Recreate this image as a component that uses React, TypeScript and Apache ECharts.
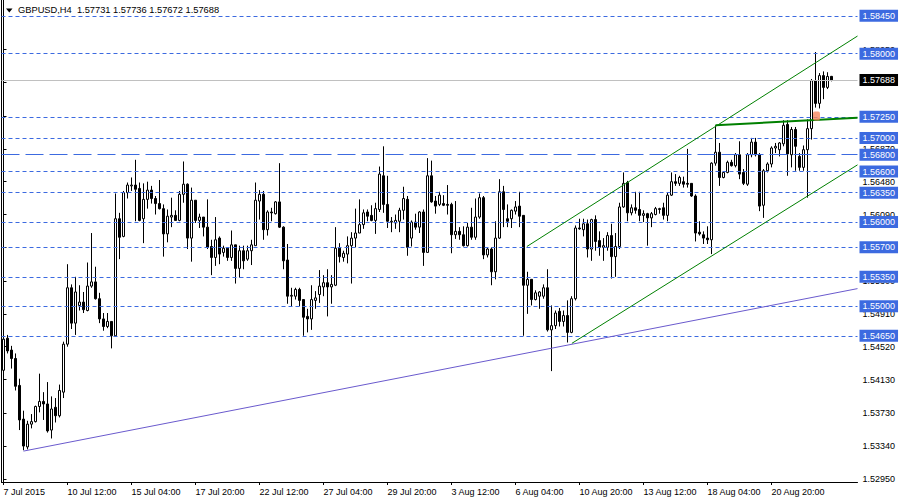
import React, { useEffect, useRef } from "react";
import * as echarts from "echarts";

// ---- data (H4 bars, [open, close, low, high]) ----
const ohlc: number[][] = [
  [1.5424, 1.5461, 1.5422, 1.5486], [1.5462, 1.5447, 1.5444, 1.5466], [1.5448, 1.5438, 1.5426, 1.5453], [1.5438, 1.5405, 1.54, 1.5444], [1.5406, 1.5365, 1.5353, 1.5414], [1.5366, 1.5334, 1.5329, 1.5376],
  [1.5333, 1.536, 1.533, 1.5364], [1.536, 1.5363, 1.5355, 1.5372], [1.5363, 1.5381, 1.5362, 1.5382], [1.5381, 1.5387, 1.5374, 1.542], [1.5387, 1.5384, 1.5365, 1.5398], [1.5384, 1.5352, 1.535, 1.541],
  [1.5353, 1.5378, 1.5343, 1.5393], [1.538, 1.537, 1.5362, 1.5391], [1.537, 1.54, 1.5368, 1.5407], [1.5398, 1.5455, 1.5391, 1.5458], [1.5455, 1.5522, 1.5452, 1.555], [1.5522, 1.548, 1.5473, 1.5526],
  [1.548, 1.5517, 1.5466, 1.5535], [1.5501, 1.5505, 1.5495, 1.5525], [1.5505, 1.5496, 1.5492, 1.5517], [1.5495, 1.5524, 1.5494, 1.5552], [1.5524, 1.5529, 1.5522, 1.5587], [1.5529, 1.5509, 1.5508, 1.5547],
  [1.5509, 1.5485, 1.548, 1.5516], [1.5485, 1.5476, 1.5471, 1.5492], [1.5476, 1.5482, 1.5474, 1.5492], [1.5482, 1.5465, 1.545, 1.5482], [1.5465, 1.5604, 1.5465, 1.5634], [1.5604, 1.5582, 1.5556, 1.5611],
  [1.5583, 1.5635, 1.5582, 1.5637], [1.5635, 1.5644, 1.5628, 1.5647], [1.5643, 1.5644, 1.5637, 1.5653], [1.5644, 1.5639, 1.5601, 1.5674], [1.564, 1.5602, 1.5601, 1.5647], [1.5604, 1.5627, 1.5575, 1.5646],
  [1.5627, 1.5638, 1.5616, 1.5648], [1.5638, 1.5628, 1.5622, 1.5643], [1.5628, 1.5622, 1.5609, 1.5631], [1.5622, 1.5616, 1.5615, 1.565], [1.5616, 1.5586, 1.5559, 1.5621], [1.5586, 1.5607, 1.5576, 1.5615],
  [1.5606, 1.5608, 1.5594, 1.5629], [1.5608, 1.5602, 1.5602, 1.5614], [1.5602, 1.5633, 1.5601, 1.5637], [1.5633, 1.5645, 1.5623, 1.5672], [1.5645, 1.5581, 1.5568, 1.5646], [1.5581, 1.5626, 1.5553, 1.5641],
  [1.5626, 1.5602, 1.5599, 1.5626], [1.5602, 1.5606, 1.5593, 1.561], [1.5606, 1.5594, 1.5583, 1.5606], [1.5594, 1.557, 1.5568, 1.5627], [1.5571, 1.5558, 1.5537, 1.5579], [1.5558, 1.5579, 1.5548, 1.5606],
  [1.5581, 1.5562, 1.555, 1.5583], [1.5564, 1.5569, 1.5559, 1.5572], [1.5569, 1.5558, 1.5554, 1.5569], [1.5558, 1.5573, 1.5554, 1.559], [1.5573, 1.5545, 1.5527, 1.5573], [1.5545, 1.5566, 1.5534, 1.5572],
  [1.5566, 1.5554, 1.5544, 1.5572], [1.5556, 1.5566, 1.5554, 1.5572], [1.5566, 1.5573, 1.5549, 1.5579], [1.5572, 1.5626, 1.5572, 1.5647], [1.5625, 1.5633, 1.5603, 1.5638], [1.5633, 1.5591, 1.5579, 1.5637],
  [1.5591, 1.5612, 1.5584, 1.5614], [1.5612, 1.5611, 1.5601, 1.5617], [1.561, 1.5624, 1.5609, 1.5625], [1.5624, 1.5594, 1.5593, 1.567], [1.5594, 1.5554, 1.5544, 1.5595], [1.5555, 1.5512, 1.5503, 1.5574],
  [1.5512, 1.5513, 1.55, 1.5522], [1.5512, 1.552, 1.5508, 1.5522], [1.552, 1.5507, 1.55, 1.5522], [1.5508, 1.5487, 1.5465, 1.5508], [1.5488, 1.5485, 1.5469, 1.5497], [1.5485, 1.5508, 1.5472, 1.5525],
  [1.5507, 1.551, 1.5497, 1.5518], [1.5514, 1.5524, 1.5504, 1.5543], [1.5523, 1.5528, 1.5512, 1.5537], [1.5528, 1.5523, 1.5488, 1.5544], [1.5523, 1.5526, 1.5503, 1.5537], [1.5525, 1.5569, 1.5524, 1.5594],
  [1.5569, 1.5559, 1.5552, 1.5575], [1.5558, 1.5563, 1.5553, 1.5566], [1.5562, 1.5572, 1.5551, 1.5583], [1.5572, 1.5581, 1.5527, 1.5588], [1.5581, 1.5587, 1.557, 1.5616], [1.5587, 1.5597, 1.5587, 1.5627],
  [1.5597, 1.5611, 1.5592, 1.5615], [1.5612, 1.5607, 1.5601, 1.5615], [1.5608, 1.5602, 1.5601, 1.562], [1.5602, 1.5616, 1.5586, 1.5623], [1.5615, 1.5657, 1.5612, 1.5666], [1.5655, 1.5621, 1.5611, 1.569],
  [1.5621, 1.5601, 1.5593, 1.5655], [1.56, 1.5601, 1.5588, 1.5606], [1.5599, 1.5602, 1.5592, 1.5609], [1.5601, 1.5614, 1.5588, 1.5617], [1.5614, 1.5628, 1.5603, 1.5642], [1.5627, 1.557, 1.556, 1.5631],
  [1.5581, 1.56, 1.5571, 1.5602], [1.56, 1.5594, 1.5591, 1.561], [1.5594, 1.5612, 1.5587, 1.5613], [1.5612, 1.5564, 1.5548, 1.5615], [1.5564, 1.5655, 1.5564, 1.5676], [1.5655, 1.5624, 1.5623, 1.5673],
  [1.5625, 1.5619, 1.561, 1.5631], [1.5621, 1.5632, 1.5619, 1.5636], [1.5622, 1.562, 1.5619, 1.5632], [1.5621, 1.562, 1.5609, 1.5644], [1.5621, 1.5585, 1.5563, 1.5623], [1.5585, 1.5589, 1.558, 1.5625],
  [1.5589, 1.5585, 1.5579, 1.5594], [1.5585, 1.5572, 1.5571, 1.5595], [1.5572, 1.5594, 1.5571, 1.5599], [1.5594, 1.5582, 1.5579, 1.5617], [1.5582, 1.5606, 1.5579, 1.5628], [1.5606, 1.5629, 1.5604, 1.5634],
  [1.5629, 1.5561, 1.5556, 1.5631], [1.5561, 1.5568, 1.5558, 1.557], [1.5568, 1.5541, 1.5525, 1.557], [1.5541, 1.5581, 1.5532, 1.5601], [1.5581, 1.5636, 1.558, 1.5651], [1.5636, 1.5615, 1.5594, 1.5643],
  [1.5604, 1.5601, 1.5594, 1.5621], [1.5604, 1.5614, 1.5593, 1.5615], [1.5613, 1.5618, 1.5609, 1.5625], [1.5619, 1.5607, 1.5594, 1.5636], [1.5608, 1.5525, 1.5465, 1.5608], [1.5525, 1.5532, 1.5491, 1.5541],
  [1.5532, 1.5508, 1.5501, 1.5532], [1.5508, 1.5516, 1.5507, 1.5519], [1.5512, 1.5517, 1.5497, 1.5518], [1.5512, 1.5522, 1.5509, 1.5526], [1.5522, 1.5472, 1.547, 1.5544], [1.5472, 1.5477, 1.5423, 1.5501],
  [1.5477, 1.5492, 1.5473, 1.5495], [1.5494, 1.5482, 1.5476, 1.5498], [1.5482, 1.5489, 1.5476, 1.5495], [1.5489, 1.5469, 1.5457, 1.5507], [1.5469, 1.5509, 1.5468, 1.5512], [1.5509, 1.5593, 1.5507, 1.5596],
  [1.5593, 1.5592, 1.5591, 1.5604], [1.5591, 1.5598, 1.5583, 1.5604], [1.5598, 1.5568, 1.5558, 1.5603], [1.5568, 1.5603, 1.5554, 1.5604], [1.5603, 1.5577, 1.5566, 1.5608], [1.5578, 1.557, 1.556, 1.5589],
  [1.557, 1.5572, 1.5554, 1.5581], [1.557, 1.5584, 1.5566, 1.5588], [1.5584, 1.5559, 1.5533, 1.5598], [1.5559, 1.5571, 1.5535, 1.5587], [1.5571, 1.5618, 1.5568, 1.5623], [1.5618, 1.5646, 1.5617, 1.5659],
  [1.5647, 1.5611, 1.5601, 1.5649], [1.5611, 1.5617, 1.5608, 1.5621], [1.5617, 1.5614, 1.561, 1.5636], [1.5615, 1.5608, 1.5601, 1.5636], [1.5608, 1.561, 1.56, 1.5614], [1.561, 1.5605, 1.5572, 1.5611],
  [1.5605, 1.561, 1.5594, 1.5612], [1.5609, 1.5616, 1.5608, 1.5618], [1.5615, 1.5616, 1.561, 1.5617], [1.5617, 1.5608, 1.5603, 1.5623], [1.5608, 1.5632, 1.5601, 1.5635], [1.5632, 1.5648, 1.5631, 1.5659],
  [1.5648, 1.5646, 1.5643, 1.5657], [1.5646, 1.5653, 1.5643, 1.5655], [1.5648, 1.5645, 1.5641, 1.5654], [1.5646, 1.5645, 1.5641, 1.5687], [1.5646, 1.5631, 1.563, 1.5646], [1.5631, 1.5587, 1.5577, 1.5633],
  [1.5588, 1.5586, 1.5584, 1.5601], [1.5585, 1.5581, 1.5574, 1.5589], [1.5581, 1.5579, 1.5574, 1.5595], [1.5579, 1.567, 1.5562, 1.5671], [1.567, 1.5683, 1.5667, 1.5715], [1.5683, 1.5653, 1.5643, 1.5694],
  [1.5653, 1.5659, 1.5652, 1.5659], [1.5659, 1.5671, 1.5658, 1.5673], [1.5671, 1.5667, 1.5666, 1.5674], [1.5667, 1.568, 1.5665, 1.5682], [1.568, 1.5657, 1.5651, 1.5696], [1.5659, 1.5646, 1.5644, 1.5663],
  [1.5645, 1.568, 1.5643, 1.5682], [1.568, 1.5695, 1.5677, 1.57], [1.5695, 1.568, 1.5678, 1.57], [1.568, 1.5619, 1.5613, 1.5682], [1.562, 1.5661, 1.5605, 1.5663], [1.5661, 1.5669, 1.5659, 1.5671],
  [1.5669, 1.5688, 1.5665, 1.569], [1.5688, 1.569, 1.5682, 1.5694], [1.5686, 1.5694, 1.5678, 1.5695], [1.5693, 1.5715, 1.569, 1.5721], [1.5716, 1.5681, 1.5655, 1.5721], [1.568, 1.571, 1.5665, 1.5713],
  [1.571, 1.569, 1.5661, 1.5713], [1.5678, 1.5665, 1.5661, 1.5682], [1.5665, 1.5686, 1.5661, 1.5691], [1.5686, 1.5711, 1.5629, 1.5722], [1.5711, 1.5768, 1.5698, 1.577], [1.5768, 1.5741, 1.5736, 1.5802],
  [1.5741, 1.5774, 1.5735, 1.5777], [1.5774, 1.576, 1.5746, 1.5779], [1.576, 1.5773, 1.5758, 1.5778], [1.57731, 1.57688, 1.57672, 1.57736],
];

const timeLabels = [
  "7 Jul 2015", "10 Jul 12:00", "15 Jul 04:00", "17 Jul 20:00", "22 Jul 12:00", "27 Jul 04:00", "29 Jul 20:00",
  "3 Aug 12:00", "6 Aug 04:00", "10 Aug 20:00", "13 Aug 12:00", "18 Aug 04:00", "20 Aug 20:00",
];
const barsPerLabel = 16;
const slotCount = 214; // bars + empty shift area on the right

const priceTicks = [1.5295, 1.5334, 1.5373, 1.5413, 1.5452, 1.5491, 1.553, 1.557, 1.5609, 1.5648, 1.5687, 1.5726, 1.5766, 1.5805];
const blueLevels = [1.5845, 1.58, 1.5725, 1.57, 1.566, 1.5635, 1.56, 1.557, 1.5535, 1.55, 1.5465];
const longDashLevel = 1.568;
const bidPrice = 1.57688;
const titleParts = ["GBPUSD,H4", "1.57731", "1.57736", "1.57672", "1.57688"];

const supportLine = [[5, 1.5328], [213.5, 1.5521]];
const channelTop = [[130.85, 1.5571], [213.5, 1.5821]];
const channelBottom = [[142.1, 1.5456], [213.5, 1.5668]];
const breakoutLine = [[178, 1.5715], [213.5, 1.5724]];
const arrowMark = [[203.25, 1.5726]];

const yMin = 1.52913;
const yMax = 1.58638;

const FONT = "Liberation Sans";
const BLUE = "#3c6ae0";

export default function App() {
  const ref = useRef<HTMLDivElement>(null);
  useEffect(() => {
    if (!ref.current) return;
    const chart = echarts.init(ref.current, null, { renderer: "svg" });
    const categories = Array.from({ length: slotCount }, (_, i) => String(i));
    const showIdx = (i: number) => i % barsPerLabel === 0 && i / barsPerLabel < timeLabels.length;
    const fmt = (v: number) => Number(v).toFixed(5);

    const levelLabel = (bg: string) => ({
      show: true,
      position: "end",
      distance: 2,
      formatter: (p: any) => fmt(p.value),
      color: "#fff",
      backgroundColor: bg,
      padding: [1, 3, 1, 3],
      fontSize: 9,
      lineHeight: 10,
      fontFamily: FONT,
    });

    const markData: any[] = blueLevels.map((v) => ({
      yAxis: v,
      lineStyle: { color: BLUE, width: 1, type: [4, 3] },
      label: levelLabel(BLUE),
    }));
    markData.push({
      yAxis: longDashLevel,
      lineStyle: { color: BLUE, width: 1, type: [18, 6] },
      label: levelLabel(BLUE),
    });
    markData.push({
      yAxis: bidPrice,
      lineStyle: { color: "#c0c0c0", width: 1, type: "solid" },
      label: levelLabel("#000"),
    });

    const trend = (data: number[][], color: string, width: number) => ({
      type: "line",
      xAxisIndex: 1,
      yAxisIndex: 0,
      data,
      symbol: "none",
      silent: true,
      lineStyle: { color, width },
      z: 5,
    });

    chart.setOption({
      animation: false,
      textStyle: { fontFamily: FONT },
      grid: { left: 1.5, right: 42.5, top: 0, bottom: 18 },
      graphic: [
        { type: "polygon", shape: { points: [[6, 8.5], [12.5, 8.5], [9.25, 12.5]] }, style: { fill: "#000" }, z: 10 },
        {
          type: "text",
          x: 18,
          y: 10,
          style: {
            text: titleParts[0] + "  " + titleParts.slice(1).join(" "),
            fill: "#000",
            font: `9.3px "${FONT}"`,
            verticalAlign: "middle",
          },
          z: 10,
        },
      ],
      xAxis: [
        {
          type: "category",
          data: categories,
          boundaryGap: true,
          axisLine: { show: true, lineStyle: { color: "#000", width: 1 } },
          axisTick: { show: true, alignWithLabel: true, interval: (i: number) => showIdx(i), length: 3, lineStyle: { color: "#000" } },
          axisLabel: {
            interval: (i: number) => showIdx(i),
            formatter: (_v: string, i: number) => timeLabels[i / barsPerLabel] ?? "",
            align: "left",
            margin: 5,
            color: "#000",
            fontSize: 9,
            fontFamily: FONT,
          },
          splitLine: { show: false },
        },
        { type: "value", min: -0.5, max: slotCount - 0.5, show: false },
      ],
      yAxis: [
        {
          type: "value",
          position: "right",
          min: yMin,
          max: yMax,
          axisLine: { show: true, lineStyle: { color: "#000", width: 1 } },
          axisTick: { show: true, length: 3, customValues: priceTicks, lineStyle: { color: "#000" } },
          axisLabel: { customValues: priceTicks, formatter: (v: number) => fmt(v), color: "#000", fontSize: 9, fontFamily: FONT, margin: 5 },
          splitLine: { show: false },
        },
        {
          type: "value",
          position: "left",
          min: yMin,
          max: yMax,
          axisLine: { show: true, lineStyle: { color: "#000", width: 1 } },
          axisTick: { show: false },
          axisLabel: { show: false },
          splitLine: { show: false },
        },
      ],
      series: [
        {
          type: "candlestick",
          xAxisIndex: 0,
          yAxisIndex: 0,
          data: ohlc,
          barWidth: 2,
          silent: true,
          itemStyle: { color: "#fff", color0: "#000", borderColor: "#000", borderColor0: "#000", borderWidth: 1 },
          markLine: { symbol: ["none", "none"], silent: true, animation: false, precision: 6, data: markData },
          z: 3,
        },
        trend(supportLine, "#6a5acd", 1),
        trend(channelTop, "#008000", 1),
        trend(channelBottom, "#008000", 1),
        trend(breakoutLine, "#008000", 2),
        {
          type: "scatter",
          xAxisIndex: 1,
          yAxisIndex: 0,
          data: arrowMark,
          symbol: "roundRect",
          symbolSize: [7, 9],
          itemStyle: { color: "#f5865f" },
          silent: true,
          z: 6,
        },
      ],
    });
    return () => chart.dispose();
  }, []);
  return <div ref={ref} style={{ position: "fixed", left: 0, top: 0, width: 900, height: 500, background: "#fff" }} />;
}
